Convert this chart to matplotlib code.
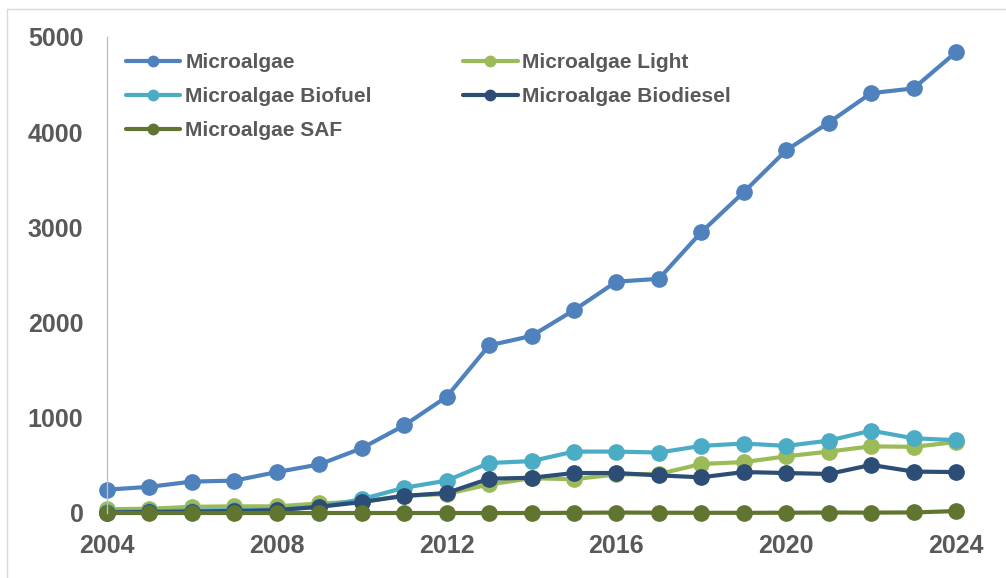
import matplotlib
matplotlib.use("Agg")
import matplotlib.pyplot as plt
from matplotlib.lines import Line2D

years = list(range(2004, 2025))
microalgae = [245, 275, 330, 340, 430, 510, 680, 920, 1220, 1760, 1860, 2130, 2430, 2460,
              2950, 3370, 3810, 4100, 4410, 4460, 4840]
light = [40, 45, 65, 70, 70, 100, 120, 180, 200, 300, 365, 355, 405, 410,
         515, 535, 595, 645, 700, 695, 745]
biofuel = [15, 20, 25, 30, 35, 65, 145, 265, 340, 525, 545, 645, 645, 635,
           705, 730, 705, 760, 865, 785, 765]
biodiesel = [5, 10, 15, 20, 30, 65, 115, 180, 210, 360, 370, 420, 420, 395,
             375, 430, 420, 410, 505, 435, 430]
saf = [0, 0, 0, 0, 0, 0, 0, 0, 0, 0, 0, 2, 5, 3, 2, 2, 3, 5, 4, 6, 20]

names = ["Microalgae", "Microalgae Light", "Microalgae Biofuel", "Microalgae Biodiesel", "Microalgae SAF"]
series = [microalgae, light, biofuel, biodiesel, saf]
colors = ["#4F81BD", "#9BBB59", "#4BACC6", "#2C4D75", "#5F7530"]

plt.rcParams['font.family'] = ['Liberation Sans', 'DejaVu Sans']

W, H = 1006, 578
fig = plt.figure(figsize=(W / 100, H / 100), dpi=100)
ax = fig.add_axes([107 / W, 1 - 513 / H, (956 - 107) / W, (513 - 37) / H])

lines = {}
for name, vals, c in zip(names, series, colors):
    ln, = ax.plot(years, vals, color=c, lw=3, marker='o', markersize=11,
                  markeredgecolor=c, clip_on=False, solid_capstyle='round', label=name)
    lines[name] = ln

ax.set_xlim(2004, 2024)
ax.set_ylim(0, 5000)
ax.set_xticks([2004, 2008, 2012, 2016, 2020, 2024])
ax.set_yticks([0, 1000, 2000, 3000, 4000, 5000])
for lab in ax.get_xticklabels() + ax.get_yticklabels():
    lab.set_fontweight('bold')
    lab.set_color('#595959')
    lab.set_fontsize(18)
ax.tick_params(length=0)
ax.tick_params(axis='y', pad=17)
ax.tick_params(axis='x', pad=15)
for s in ['top', 'right', 'bottom']:
    ax.spines[s].set_visible(False)
ax.spines['left'].set_color('#BFBFBF')
ax.spines['left'].set_linewidth(1)

order = ["Microalgae", "Microalgae Biofuel", "Microalgae SAF", "Microalgae Light", "Microalgae Biodiesel"]
leg = fig.legend([lines[n] for n in order], order, ncol=2, loc='upper left',
                 bbox_to_anchor=(126 / W, 1 - 53 / H), frameon=False, borderpad=0,
                 borderaxespad=0, handlelength=2.6,
                 columnspacing=4.4, labelspacing=0.73, handletextpad=0.24,
                 prop={'weight': 'bold', 'size': 15})
for t in leg.get_texts():
    t.set_color('#595959')
for h in leg.legend_handles:
    h.set_markersize(7.5)

# outer chart-area border (top and left edges visible)
fig.add_artist(Line2D([7 / W, 7 / W], [0, 1 - 9 / H], transform=fig.transFigure,
                      color='#D9D9D9', lw=1))
fig.add_artist(Line2D([7 / W, 1], [1 - 9 / H, 1 - 9 / H], transform=fig.transFigure,
                      color='#D9D9D9', lw=1))

fig.savefig("out.png", dpi=100)
